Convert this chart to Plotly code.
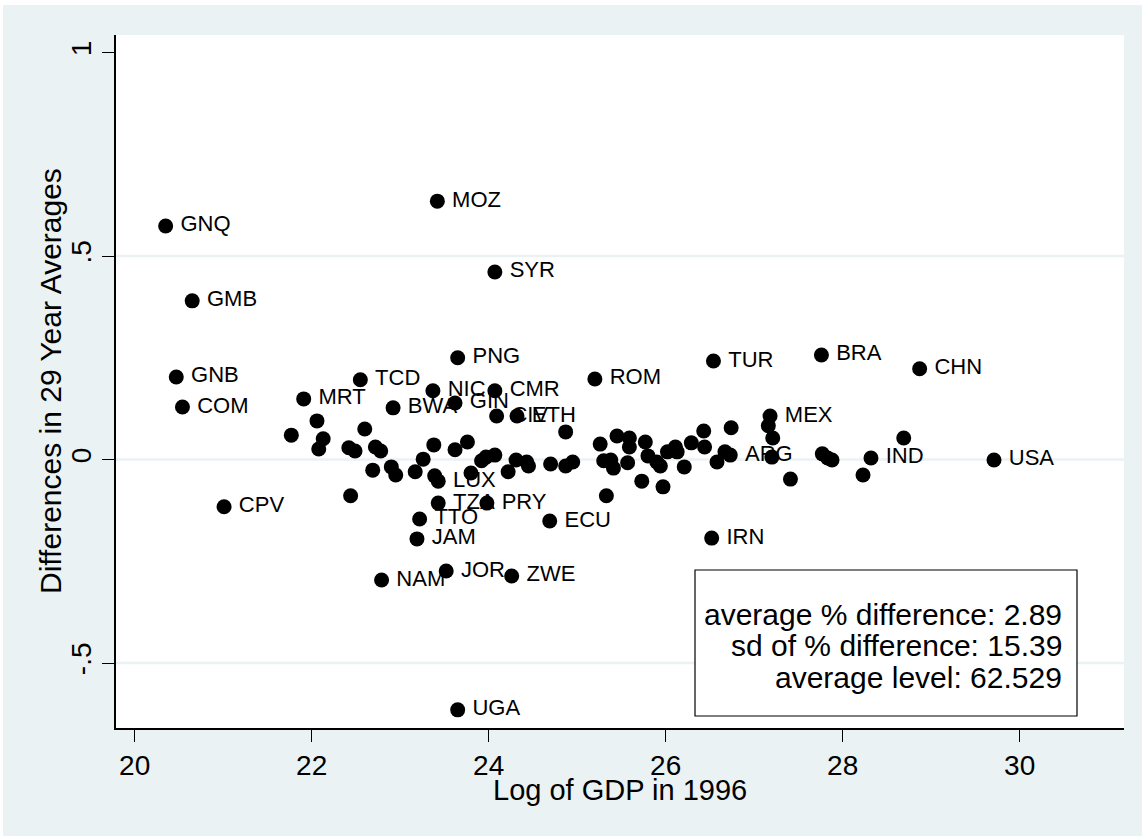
import plotly.graph_objects as go

# ---- data ----
log_gdp_1996 = [
    20.35, 23.42, 24.07, 20.65, 23.65, 26.54, 27.76, 28.87, 20.47, 22.55,
    25.20, 20.54, 21.91, 23.37, 24.07, 22.92, 23.62, 24.09, 24.32, 27.18,
    23.43, 23.43, 23.98, 23.22, 24.69, 23.19, 26.52, 22.79, 23.52, 24.26,
    23.65, 21.01, 26.73, 28.32, 29.71,
    21.77, 22.06, 22.13, 22.08, 22.44, 22.42, 22.49, 22.60, 22.72, 22.78,
    22.69, 22.90, 22.95, 23.17, 23.26, 23.38, 23.39, 23.62, 23.76, 23.80,
    23.92, 23.97, 24.07, 24.22, 24.31, 24.43, 24.45, 24.70, 24.87, 24.87,
    24.95, 25.26, 25.30, 25.38, 25.41, 25.33, 25.45, 25.57, 25.59, 25.59,
    25.73, 25.77, 25.80, 25.90, 25.94, 25.97, 26.02, 26.11, 26.13, 26.21,
    26.29, 26.43, 26.44, 26.58, 26.67, 26.74, 27.16, 27.21, 27.20, 27.41,
    27.77, 27.83, 27.88, 28.23, 28.69,
]
diff_29yr = [
    0.574, 0.635, 0.461, 0.390, 0.250, 0.242, 0.257, 0.223, 0.203, 0.196,
    0.198, 0.129, 0.149, 0.169, 0.169, 0.127, 0.139, 0.107, 0.107, 0.107,
    -0.053, -0.107, -0.107, -0.146, -0.151, -0.195, -0.193, -0.296, -0.274, -0.286,
    -0.615, -0.116, 0.011, 0.004, -0.001,
    0.060, 0.095, 0.051, 0.026, -0.089, 0.029, 0.021, 0.075, 0.031, 0.021,
    -0.026, -0.018, -0.038, -0.030, 0.001, 0.036, -0.040, 0.024, 0.043, -0.033,
    -0.003, 0.006, 0.011, -0.030, -0.001, -0.006, -0.016, -0.011, 0.068, -0.016,
    -0.006, 0.038, -0.003, -0.001, -0.021, -0.089, 0.058, -0.008, 0.053, 0.031,
    -0.053, 0.043, 0.009, -0.006, -0.016, -0.067, 0.019, 0.031, 0.019, -0.018,
    0.041, 0.070, 0.031, -0.006, 0.019, 0.078, 0.083, 0.053, 0.006, -0.048,
    0.014, 0.004, -0.001, -0.038, 0.053,
]
country_labels = [
    "GNQ", "MOZ", "SYR", "GMB", "PNG", "TUR", "BRA", "CHN", "GNB", "TCD",
    "ROM", "COM", "MRT", "NIC", "CMR", "BWA", "GIN", "CIV", "ETH", "MEX",
    "LUX", "TZA", "PRY", "TTO", "ECU", "JAM", "IRN", "NAM", "JOR", "ZWE",
    "UGA", "CPV", "ARG", "IND", "USA",
] + [""] * 66

x_ticks = [20, 22, 24, 26, 28, 30]
y_ticks = [-0.5, 0, 0.5, 1]
y_tick_text = ["-.5", "0", ".5", "1"]
grid_values = [-0.5, 0, 0.5]
note_lines = [
    "average % difference: 2.89",
    "sd of % difference: 15.39",
    "average level: 62.529",
]

FONT = "Liberation Sans, Arial, Helvetica, sans-serif"
BLUISH = "#EAF2F3"

# plot-area geometry in pixels (for paper-coordinate conversions)
W, H = 1142, 836
L, R, T, B = 116, 18, 35, 108
PW, PH = W - L - R, H - T - B


def px_x(p):
    return (p - L) / PW


def px_y(p):
    return (H - B - p) / PH


# thin space in front of each label = Stata's marker-label gap
shown_labels = ["\u2009" + c if c else "" for c in country_labels]

fig = go.Figure()
fig.add_trace(go.Scatter(
    x=log_gdp_1996, y=diff_29yr, text=shown_labels,
    mode="markers+text", textposition="middle right",
    marker=dict(color="black", size=15, line=dict(width=0)),
    textfont=dict(family=FONT, size=22, color="black"),
    cliponaxis=False, hoverinfo="x+y+text",
))

shapes = [
    # thin white outer frame (top/left) over the bluish graph region
    dict(type="rect", xref="paper", yref="paper", x0=px_x(0), x1=px_x(W),
         y0=px_y(5), y1=px_y(0), fillcolor="white", line=dict(width=0), layer="below"),
    dict(type="rect", xref="paper", yref="paper", x0=px_x(0), x1=px_x(3),
         y0=px_y(H), y1=px_y(0), fillcolor="white", line=dict(width=0), layer="below"),
]
for g in grid_values:
    shapes.append(dict(type="line", xref="paper", yref="y", x0=0, x1=1, y0=g, y1=g,
                       line=dict(color=BLUISH, width=2.5), layer="below"))
# note box
shapes.append(dict(type="rect", xref="paper", yref="paper",
                   x0=px_x(695), x1=px_x(1077), y0=px_y(716), y1=px_y(570),
                   line=dict(color="black", width=1.2), fillcolor="white", layer="above"))

annotations = []
for i, line in enumerate(note_lines):
    annotations.append(dict(text=line, xref="paper", yref="paper",
                            x=px_x(1064), y=px_y(614 + 31.5 * i), xanchor="right",
                            yanchor="middle", showarrow=False,
                            font=dict(family=FONT, size=30, color="black")))
annotations.append(dict(text="Log of GDP in 1996", xref="paper", yref="paper",
                        x=0.5, y=px_y(790), xanchor="center", yanchor="middle",
                        showarrow=False, font=dict(family=FONT, size=29, color="black")))
annotations.append(dict(text="Differences in 29 Year Averages", xref="paper", yref="paper",
                        x=px_x(50), y=px_y(381), xanchor="center", yanchor="middle",
                        textangle=-90, showarrow=False,
                        font=dict(family=FONT, size=30, color="black")))

fig.update_layout(
    width=W, height=H,
    margin=dict(l=L, r=R, t=T, b=B, pad=0),
    paper_bgcolor=BLUISH, plot_bgcolor="white",
    showlegend=False,
    shapes=shapes, annotations=annotations,
    font=dict(family=FONT, color="black"),
    xaxis=dict(range=[19.789, 31.179], tickvals=x_ticks, showgrid=False, zeroline=False,
               showline=True, linecolor="black", linewidth=1.5, ticks="outside",
               ticklen=12, tickwidth=1.3, tickcolor="black",
               tickfont=dict(family=FONT, size=28, color="black")),
    yaxis=dict(range=[-0.6596, 1.0432], tickvals=y_ticks, ticktext=y_tick_text,
               showgrid=False, zeroline=False, tickangle=-90,
               showline=True, linecolor="black", linewidth=1.5, ticks="outside",
               ticklen=12, tickwidth=1.3, tickcolor="black",
               tickfont=dict(family=FONT, size=28, color="black")),
)

fig.write_html(
    "out.html",
    config={"displayModeBar": False},
    post_script="document.body.style.margin='0px';document.body.style.padding='0px';",
)
